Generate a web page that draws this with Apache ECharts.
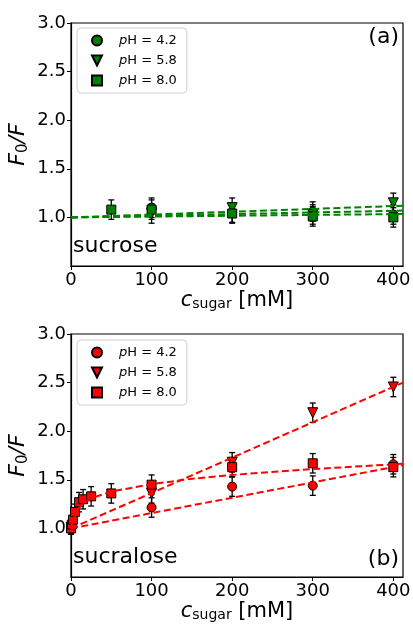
<!DOCTYPE html>
<html>
<head>
<meta charset="utf-8">
<script src="https://cdn.jsdelivr.net/npm/echarts@6/dist/echarts.min.js"></script>
<style>
  html, body { margin: 0; padding: 0; background: #fff; }
  #chart { width: 413px; height: 624px; }
</style>
</head>
<body>
<div id="chart"></div>
<script>
// sucrose (panel a): [c, F0/F, err]
var sucrose42 = [[100, 1.10, 0.1], [200, 1.05, 0.1], [300, 1.06, 0.1], [400, 1.03, 0.1]];
var sucrose58 = [[100, 1.04, 0.1], [200, 1.10, 0.1], [300, 1.03, 0.1], [400, 1.15, 0.1]];
var sucrose80 = [[50, 1.08, 0.1], [100, 1.08, 0.1], [200, 1.04, 0.1], [300, 1.01, 0.1], [400, 1.00, 0.1]];
var sucroseFit42 = [[0, 1.0], [412, 1.07]];
var sucroseFit58 = [[0, 1.0], [412, 1.12]];
var sucroseFit80 = [[0, 1.0], [412, 1.035]];

// sucralose (panel b)
var sucralose42 = [[0, 1.00, 0.06], [100, 1.215, 0.1], [200, 1.43, 0.1], [300, 1.44, 0.1], [400, 1.66, 0.1]];
var sucralose58 = [[0, 1.01, 0.06], [100, 1.36, 0.1], [200, 1.68, 0.1], [300, 2.19, 0.1], [400, 2.455, 0.1]];
var sucralose80 = [[0, 1.00, 0.06], [1, 1.04, 0.06], [2.5, 1.09, 0.08], [5, 1.17, 0.08], [10, 1.27, 0.1],
  [15, 1.30, 0.1], [25, 1.33, 0.1], [50, 1.36, 0.1], [100, 1.45, 0.1], [200, 1.63, 0.1], [300, 1.67, 0.1], [400, 1.63, 0.1]];
var sucraloseFit42 = [[0, 1.0], [412, 1.65]];
var sucraloseFit58 = [[0, 1.0], [412, 2.5]];
var sucraloseFit80 = [[0, 1.0], [2.5, 1.08], [5, 1.14], [10, 1.21], [15, 1.26], [25, 1.31], [50, 1.38],
  [100, 1.455], [150, 1.51], [200, 1.55], [300, 1.61], [412, 1.665]];

var xTicks = [0, 100, 200, 300, 400];
var legendLabels = ['pH = 4.2', 'pH = 5.8', 'pH = 8.0'];

var green = '#008000', red = '#ff0000';
var font = 'DejaVu Sans';
var downTri = 'path://M0,0 L10,0 L5,10 Z';

var chart = echarts.init(document.getElementById('chart'));

function errorBars(data, gi) {
  return {
    type: 'custom', xAxisIndex: gi, yAxisIndex: gi, z: 3, silent: true,
    data: data,
    renderItem: function (params, api) {
      var x = api.value(0), y = api.value(1), e = api.value(2);
      var lo = api.coord([x, y - e]), hi = api.coord([x, y + e]);
      var st = { stroke: '#000', lineWidth: 1.3 };
      return { type: 'group', children: [
        { type: 'line', shape: { x1: lo[0], y1: lo[1], x2: hi[0], y2: hi[1] }, style: st },
        { type: 'line', shape: { x1: lo[0] - 3, y1: lo[1], x2: lo[0] + 3, y2: lo[1] }, style: st },
        { type: 'line', shape: { x1: hi[0] - 3, y1: hi[1], x2: hi[0] + 3, y2: hi[1] }, style: st }
      ] };
    }
  };
}

function points(name, data, gi, color, symbol, size) {
  return {
    name: name, type: 'scatter', xAxisIndex: gi, yAxisIndex: gi, z: 4,
    symbol: symbol, symbolSize: size,
    data: data.map(function (d) { return [d[0], d[1]]; }),
    itemStyle: { color: color, borderColor: '#000', borderWidth: 1, opacity: 1 }
  };
}

function fit(data, gi, color) {
  return {
    type: 'line', xAxisIndex: gi, yAxisIndex: gi, z: 5, data: data, symbol: 'none', silent: true,
    lineStyle: { color: color, width: 2, type: [7, 3.5] }
  };
}

function xAxis(gi) {
  return {
    type: 'value', gridIndex: gi, min: 0, max: 412, interval: 100,
    name: '{i|c}{sub|sugar} [mM]', nameLocation: 'middle', nameGap: 21,
    nameTextStyle: { fontFamily: font, fontSize: 21, color: '#000',
      rich: { i: { fontFamily: font, fontSize: 21, fontStyle: 'italic', color: '#000' },
              sub: { fontFamily: font, fontSize: 14, color: '#000', padding: [8, 0, 0, 0] } } },
    axisLine: { lineStyle: { color: '#000', width: 1.2 } },
    axisTick: { length: 4, lineStyle: { color: '#000' } },
    axisLabel: { fontFamily: font, fontSize: 18, color: '#000', margin: 5, showMaxLabel: false },
    splitLine: { show: false }
  };
}

function yAxis(gi) {
  return {
    type: 'value', gridIndex: gi, min: 0.5, max: 3.0, interval: 0.5,
    name: '{i|F}{sub|0}{i|/F}', nameLocation: 'middle', nameGap: 40, nameMoveOverlap: false,
    nameTextStyle: { fontFamily: font, fontSize: 22, color: '#000',
      rich: { i: { fontFamily: font, fontSize: 22, fontStyle: 'italic', color: '#000' },
              sub: { fontFamily: font, fontSize: 15, color: '#000', padding: [10, 0, 0, 0] } } },
    axisLine: { lineStyle: { color: '#000', width: 1.2 } },
    axisTick: { length: 4, lineStyle: { color: '#000' } },
    axisLabel: { fontFamily: font, fontSize: 18, color: '#000', margin: 5, showMinLabel: false,
      formatter: function (v) { return v.toFixed(1); } },
    splitLine: { show: false }
  };
}

function legend(gi, names) {
  var icons = ['circle', downTri, 'rect'];
  return {
    orient: 'vertical', left: 77, top: gi === 0 ? 28 : 340,
    data: names.map(function (n, i) { return { name: n, icon: icons[i] }; }),
    formatter: function (n) { return '{s| }{i|p}' + legendLabels[names.indexOf(n)].slice(1); },
    itemWidth: 10, itemHeight: 10, itemGap: 7,
    padding: [6, 10, 6, 14],
    borderColor: '#d0d0d0', borderWidth: 1, borderRadius: 4, backgroundColor: 'rgba(255,255,255,0.8)',
    textStyle: { fontFamily: font, fontSize: 13, color: '#000',
      rich: { s: { width: 12 }, i: { fontFamily: font, fontSize: 13, fontStyle: 'italic', color: '#000' } } },
    selectedMode: false
  };
}

var namesA = ['a42', 'a58', 'a80'], namesB = ['b42', 'b58', 'b80'];

var option = {
  animation: false,
  backgroundColor: '#fff',
  grid: [
    { left: 71, right: 10, top: 23, height: 243, show: true, borderColor: '#000', borderWidth: 1.2,
      containLabel: false, outerBoundsMode: 'none' },
    { left: 71, right: 10, top: 334, height: 243, show: true, borderColor: '#000', borderWidth: 1.2,
      containLabel: false, outerBoundsMode: 'none' }
  ],
  xAxis: [xAxis(0), xAxis(1)],
  yAxis: [yAxis(0), yAxis(1)],
  legend: [legend(0, namesA), legend(1, namesB)],
  graphic: [
    { type: 'text', right: 14, top: 26, style: { text: '(a)', font: '22px "DejaVu Sans"', fill: '#000' } },
    { type: 'text', left: 73, top: 235, style: { text: 'sucrose', font: '22px "DejaVu Sans"', fill: '#000' } },
    { type: 'text', right: 14, top: 548, style: { text: '(b)', font: '22px "DejaVu Sans"', fill: '#000' } },
    { type: 'text', left: 73, top: 546, style: { text: 'sucralose', font: '22px "DejaVu Sans"', fill: '#000' } }
  ],
  series: [
    fit(sucroseFit42, 0, green), fit(sucroseFit58, 0, green), fit(sucroseFit80, 0, green),
    errorBars(sucrose42, 0), errorBars(sucrose58, 0), errorBars(sucrose80, 0),
    points('a42', sucrose42, 0, green, 'circle', 9),
    points('a58', sucrose58, 0, green, downTri, 10),
    points('a80', sucrose80, 0, green, 'rect', 9),
    fit(sucraloseFit42, 1, red), fit(sucraloseFit58, 1, red), fit(sucraloseFit80, 1, red),
    errorBars(sucralose42, 1), errorBars(sucralose58, 1), errorBars(sucralose80, 1),
    points('b42', sucralose42, 1, red, 'circle', 9),
    points('b58', sucralose58, 1, red, downTri, 10),
    points('b80', sucralose80, 1, red, 'rect', 9)
  ]
};

chart.setOption(option);
</script>
</body>
</html>
